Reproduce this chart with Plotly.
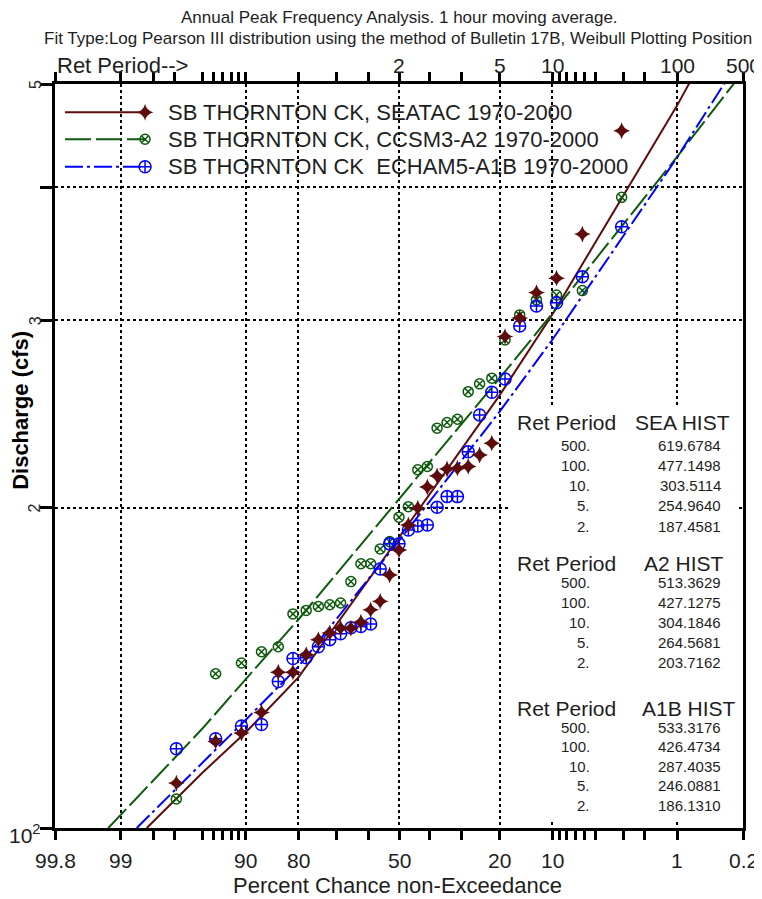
import plotly.graph_objects as go
from statistics import NormalDist
import math

# ---------------- data ----------------
# Weibull plotting positions (percent), rank 1 (largest) .. 31 (smallest)
PLOT_POS = [3.125, 6.25, 9.375, 12.5, 15.625, 18.75, 21.875, 25.0, 28.125, 31.25,
            34.375, 37.5, 40.625, 43.75, 46.875, 50.0, 53.125, 56.25, 59.375, 62.5,
            65.625, 68.75, 71.875, 75.0, 78.125, 81.25, 84.375, 87.5, 90.625, 93.75, 96.875]

SEA_PEAKS = [451.9, 361.4, 328.5, 318.4, 301.4, 289.5, 229.9, 224.1, 218.6, 217.8,
             217.4, 214.2, 209.1, 199.8, 192.6, 182.5, 172.9, 163.3, 160.3, 156.1,
             154.1, 154.1, 152.5, 150.3, 145.5, 140.1, 140.1, 128.4, 122.8, 120.6, 110.2]
A2_PEAKS = [391.3, 319.8, 316.8, 313.4, 303.4, 287.4, 264.6, 261.4, 257.0, 242.1,
            240.4, 237.5, 218.6, 217.0, 200.4, 195.9, 185.8, 182.9, 177.1, 177.1,
            170.4, 162.7, 162.1, 161.5, 160.1, 158.9, 148.0, 146.4, 142.9, 139.6, 106.5]
A1B_PEAKS = [367.2, 329.6, 311.5, 309.3, 296.2, 264.1, 256.7, 244.4, 225.7, 204.8,
             204.8, 200.1, 192.6, 192.2, 190.5, 184.9, 184.9, 175.1, 155.5, 154.6,
             154.2, 152.2, 150.3, 148.0, 144.5, 144.3, 137.3, 125.1, 124.7, 121.3, 118.7]

# fitted Log-Pearson III curves (percent, discharge)
SEA_FIT_P = [98.26, 95, 90, 80, 50, 20, 10, 1, 0.2]
SEA_FIT_Q = [100.0, 112.7, 123.0, 138.5, 187.4581, 254.9640, 303.5114, 477.1498, 619.6784]
A2_FIT_P = [99.25, 95, 90, 80, 50, 20, 10, 1, 0.2]
A2_FIT_Q = [100.0, 124.0, 138.0, 157.0, 203.7162, 264.5681, 304.1846, 427.1275, 513.3629]
A1B_FIT_P = [98.59, 95, 90, 80, 50, 20, 10, 1, 0.2]
A1B_FIT_Q = [100.0, 115.0, 126.4, 141.8, 186.1310, 246.0881, 287.4035, 426.4734, 533.3176]

RET_PERIODS = ["500.", "100.", "10.", "5.", "2."]
SEA_TABLE = ["619.6784", "477.1498", "303.5114", "254.9640", "187.4581"]
A2_TABLE = ["513.3629", "427.1275", "304.1846", "264.5681", "203.7162"]
A1B_TABLE = ["533.3176", "426.4734", "287.4035", "246.0881", "186.1310"]

SERIES_NAMES = ["SB THORNTON CK, SEATAC 1970-2000",
                "SB THORNTON CK, CCSM3-A2 1970-2000",
                "SB THORNTON CK  ECHAM5-A1B 1970-2000"]

X_MAJOR = [99.8, 99, 90, 80, 50, 20, 10, 1, 0.2]
X_MAJOR_TEXT = ["99.8", "99", "90", "80", "50", "20", "10", "1", "0.2"]
X_MINOR = [98, 97, 95, 94, 93, 92, 91, 70, 60, 40, 30, 9, 8, 7, 6, 5, 3, 2]
TOP_TEXT = ["", "", "", "", "2", "5", "10", "100", "500"]
Y_TICKS = [100, 200, 300, 400, 500]

# ---------------- helpers ----------------
ND = NormalDist()
def zpos(p):
    return ND.inv_cdf(1 - p / 100.0)

def zl(ps):
    return [zpos(p) for p in ps]

OFF = 8  # page body margin of the browser
W, H = 762 - OFF, 899 - OFF
# plot area in reference pixels
RL, RR, RT, RB = 55, 742.7, 84, 828.3
L, R, T, B = RL - OFF, RR - OFF, RT - OFF, RB - OFF

def PX(px):
    return (px - RL) / (RR - RL)
def PY(py):
    return (RB - py) / (RB - RT)

xr = [zpos(99.8), zpos(0.2)]
LY = math.log10(500) - 2

MAROON = "#5e0b0b"
GREEN = "#0d5a0d"
BLUE = "#0000ff"
FONT = "Liberation Sans, Arial, sans-serif"
TXT = "#1e1e1e"

fig = go.Figure()

# fitted curves
fig.add_trace(go.Scatter(x=zl(SEA_FIT_P), y=SEA_FIT_Q, mode="lines",
                         line=dict(color=MAROON, width=2), showlegend=False))
fig.add_trace(go.Scatter(x=zl(A2_FIT_P), y=A2_FIT_Q, mode="lines",
                         line=dict(color=GREEN, width=2, dash="26px,5px"), showlegend=False))
fig.add_trace(go.Scatter(x=zl(A1B_FIT_P), y=A1B_FIT_Q, mode="lines",
                         line=dict(color=BLUE, width=2, dash="18px,4px,3px,4px"), showlegend=False))

# observed peaks
fig.add_trace(go.Scatter(x=zl(PLOT_POS), y=A2_PEAKS, mode="markers",
                         marker=dict(symbol="circle-x-open", size=10, color=GREEN,
                                     line=dict(width=1.5, color=GREEN)), showlegend=False))
fig.add_trace(go.Scatter(x=zl(PLOT_POS), y=A1B_PEAKS, mode="markers",
                         marker=dict(symbol="circle-cross-open", size=12, color=BLUE,
                                     line=dict(width=1.5, color=BLUE)), showlegend=False))
fig.add_trace(go.Scatter(x=zl(PLOT_POS), y=SEA_PEAKS, mode="markers",
                         marker=dict(symbol="star-diamond", size=12, color=MAROON,
                                     line=dict(width=0)), showlegend=False))

# manual legend on a pixel-coordinate overlay axis (reference pixels)
LEG_Y = [112.3, 139.3, 166.7]
LEG_STYLE = [
    (MAROON, "solid", "star-diamond", 12, 0),
    (GREEN, "26px,5px", "circle-x-open", 10, 1.5),
    (BLUE, "18px,4px,3px,4px", "circle-cross-open", 12, 1.5),
]
for (col, dash, sym, sz, lw), ly in zip(LEG_STYLE, LEG_Y):
    fig.add_trace(go.Scatter(x=[65, 145], y=[ly, ly], mode="lines", xaxis="x3", yaxis="y3",
                             line=dict(color=col, width=2, dash=dash), showlegend=False))
    fig.add_trace(go.Scatter(x=[145], y=[ly], mode="markers", xaxis="x3", yaxis="y3",
                             marker=dict(symbol=sym, size=sz, color=col, line=dict(width=lw, color=col)),
                             showlegend=False))
# invisible point so the top axis is drawn
fig.add_trace(go.Scatter(x=[0], y=[200], xaxis="x2", yaxis="y", mode="markers",
                         marker=dict(opacity=0), showlegend=False, hoverinfo="skip"))

def A(px, py, text, size, xanchor="center", angle=0, color=TXT, fam=FONT):
    return dict(x=PX(px), y=PY(py), xref="paper", yref="paper", text=text,
                showarrow=False, xanchor=xanchor, yanchor="middle", textangle=angle,
                font=dict(family=fam, size=size, color=color))

ann = []
for ly, name in zip(LEG_Y, SERIES_NAMES):
    ann.append(A(166, ly, name, 22, "left"))

# titles
ann.append(A(399, 17, "Annual Peak Frequency Analysis. 1 hour moving average.", 17))
ann.append(A(398, 38, "Fit Type:Log Pearson III distribution using the method of Bulletin 17B, Weibull Plotting Position", 17))
ann.append(A(397.5, 886, "Percent Chance non-Exceedance", 22))
ann.append(A(21, 410, "<b>Discharge (cfs)</b>", 22, angle=-90, color="#000"))
ann.append(A(55, 65, "Ret Period-->", 22, "left"))

# bottom tick labels
for p, t in zip(X_MAJOR, X_MAJOR_TEXT):
    d = dict(A(0, 861, t, 21))
    d["x"] = (zpos(p) - xr[0]) / (xr[1] - xr[0])
    ann.append(d)
# top tick labels
for p, t in zip(X_MAJOR, TOP_TEXT):
    if t:
        d = dict(A(0, 65, t, 21))
        d["x"] = (zpos(p) - xr[0]) / (xr[1] - xr[0])
        ann.append(d)
# y tick labels
for v, t in zip([500, 300, 200], ["5", "3", "2"]):
    d = dict(A(35, 0, t, 16, angle=-90))
    d["y"] = (math.log10(v) - 2) / LY
    ann.append(d)
ann.append(A(43, 834, "10<sup>2</sup>", 21, "right"))

# white panel behind the tables (covers the gridlines)
ann.append(dict(x=PX(624.5), y=PY(615), xref="paper", yref="paper", text=" ",
                showarrow=False, xanchor="center", yanchor="middle",
                width=229, height=414, bgcolor="white", borderpad=0, borderwidth=0,
                font=dict(family=FONT, size=10, color="white")))

# tables
TABLES = [("SEA HIST", SEA_TABLE, 422.5, 633, [446, 466, 486, 506, 526.5]),
          ("A2 HIST", A2_TABLE, 564, 642, [583, 603, 623, 643, 663]),
          ("A1B HIST", A1B_TABLE, 709, 640, [728, 747, 766.5, 786, 806])]
for hdr, vals, hy, hx, rows in TABLES:
    ann.append(A(515, hy, "Ret Period", 21, "left"))
    ann.append(A(hx, hy, hdr, 21, "left"))
    for rp, val, ry in zip(RET_PERIODS, vals, rows):
        ann.append(A(592, ry, rp, 15, "right"))
        ann.append(A(723, ry, val, 15, "right"))

axis_common = dict(showline=True, linecolor="black", linewidth=3, zeroline=False)
fig.update_layout(
    width=W, height=H, paper_bgcolor="white", plot_bgcolor="white",
    margin=dict(l=L, r=W - R, t=T, b=H - B, pad=0),
    showlegend=False,
    annotations=ann,
    xaxis=dict(range=xr, tickvals=zl(X_MAJOR), showticklabels=False,
               ticks="outside", ticklen=9, tickwidth=3, tickcolor="black",
               showgrid=True, gridcolor="black", gridwidth=2, griddash="dot",
               minor=dict(tickvals=zl(X_MINOR), ticks="outside", ticklen=9, tickwidth=3,
                          tickcolor="black", showgrid=False),
               **axis_common),
    xaxis2=dict(range=xr, overlaying="x", side="top", anchor="y",
                tickvals=zl(X_MAJOR), showticklabels=False, showgrid=False,
                ticks="outside", ticklen=9, tickwidth=3, tickcolor="black",
                minor=dict(tickvals=zl(X_MINOR), ticks="outside", ticklen=9, tickwidth=3,
                           tickcolor="black", showgrid=False),
                **axis_common),
    xaxis3=dict(range=[RL, RR], overlaying="x", anchor="y3", visible=False),
    yaxis=dict(type="log", range=[2, math.log10(500)], tickvals=Y_TICKS, showticklabels=False,
               ticks="outside", ticklen=12, tickwidth=3, tickcolor="black",
               showgrid=True, gridcolor="black", gridwidth=2, griddash="dot",
               mirror=True, **axis_common),
    yaxis3=dict(range=[RB, RT], overlaying="y", anchor="x3", visible=False),
)

fig.write_html("out.html")
